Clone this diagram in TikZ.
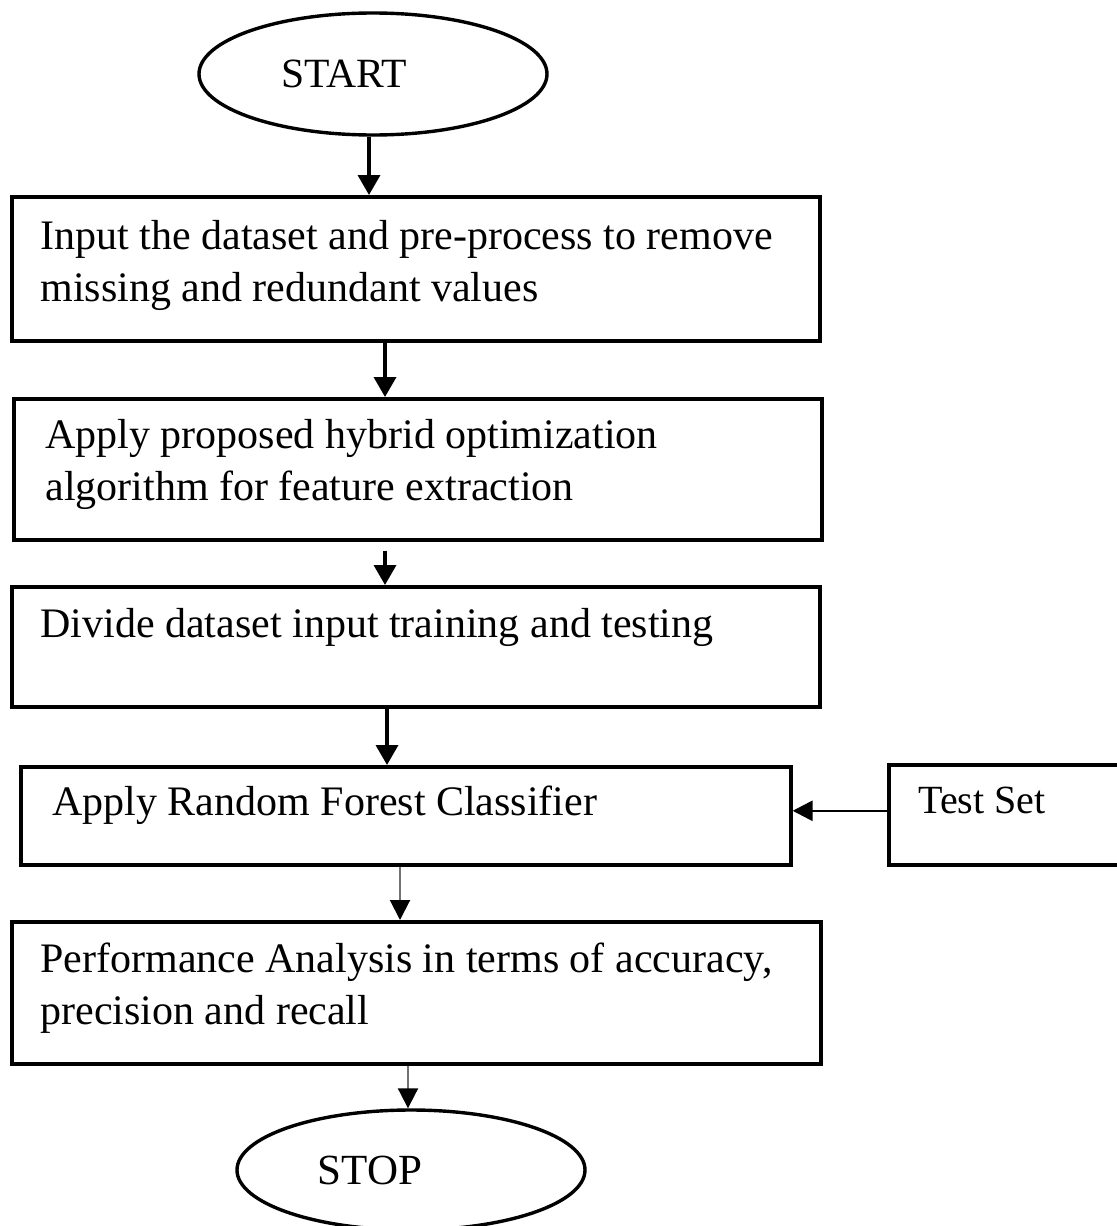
\documentclass[tikz,border=0pt]{standalone}
\usepackage{fontspec}
\setmainfont{Liberation Serif}
\usetikzlibrary{arrows.meta,shapes.geometric}
\begin{document}
\begin{tikzpicture}[x=0.5pt,y=-0.5pt,
  box/.style={draw=black, line width=1.8pt, rectangle, anchor=north west, inner sep=0pt},
  oval/.style={draw=black, line width=1.7pt, ellipse, inner sep=0pt},
  txt/.style={anchor=north west, inner sep=0pt, align=left, font=\fontsize{21}{26}\selectfont},
  arr/.style={line width=1.8pt, -{Triangle[length=10pt,width=11pt]}},
  thinarr/.style={line width=1pt, draw=black!55, -{Triangle[length=10pt,width=10pt,color=black]}},
  sidearr/.style={line width=1.3pt, -{Triangle[length=10pt,width=10pt]}}
]
\path[use as bounding box] (0,0) rectangle (1117,1226);
\clip (0,0) rectangle (1117,1226);

% terminals
\node[oval, minimum width=174pt, minimum height=61pt, font=\fontsize{20.8}{25}\selectfont] (start) at (373,74) {START\hspace*{29pt}};
\node[oval, minimum width=174pt, minimum height=60pt, font=\fontsize{21.5}{26}\selectfont] (stop) at (411,1170) {STOP\hspace*{41pt}};

% boxes
\node[box, minimum width=404pt, minimum height=72pt] (b1) at (10,195) {};
\node[box, minimum width=404pt, minimum height=70.5pt] (b2) at (12,397) {};
\node[box, minimum width=404pt, minimum height=60pt] (b3) at (10,585) {};
\node[box, minimum width=385pt, minimum height=49pt] (b4) at (19,765) {};
\node[box, minimum width=121.5pt, minimum height=50pt] (ts) at (887,763) {};
\node[box, minimum width=404.5pt, minimum height=71pt] (b5) at (10,920) {};

% texts
\node[txt] (t1) at (40,213) {\strut Input the dataset and pre-process to remove\\\strut missing and redundant values};
\node[txt] (t2) at (45,412) {\strut Apply proposed hybrid optimization\\\strut algorithm for feature extraction};
\node[txt] (t3) at (40,601) {\strut Divide dataset input training and testing};
\node[txt] (t4) at (52,779) {\strut Apply Random Forest Classifier};
\node[txt, font=\fontsize{20}{26}\selectfont] (tt) at (918,777) {\strut Test Set};
\node[txt] (t5) at (40,936) {\strut Performance Analysis in terms of accuracy,\\\strut precision and recall};

% connectors
\draw[arr] ([xshift=-2pt]start.south) -- ([xshift=-2pt]start.south |- b1.north);
\draw[arr] ([xshift=187.5pt]b1.south west) -- ([xshift=187.5pt]b1.south west |- b2.north);
\draw[arr] ([xshift=186.5pt,yshift=-4.5pt]b2.south west) -- ([xshift=186.5pt]b2.south west |- b3.north);
\draw[arr] ([xshift=188.5pt]b3.south west) -- ([xshift=188.5pt]b3.south west |- b4.north);
\draw[thinarr] ([xshift=190.5pt]b4.south west) -- ([xshift=190.5pt]b4.south west |- b5.north);
\draw[thinarr] ([xshift=199pt]b5.south west) -- ([xshift=199pt]b5.south west |- stop.north);
\draw[sidearr] ([yshift=2pt]ts.west) -- ([yshift=2pt]ts.west -| b4.east);
\end{tikzpicture}
\end{document}
